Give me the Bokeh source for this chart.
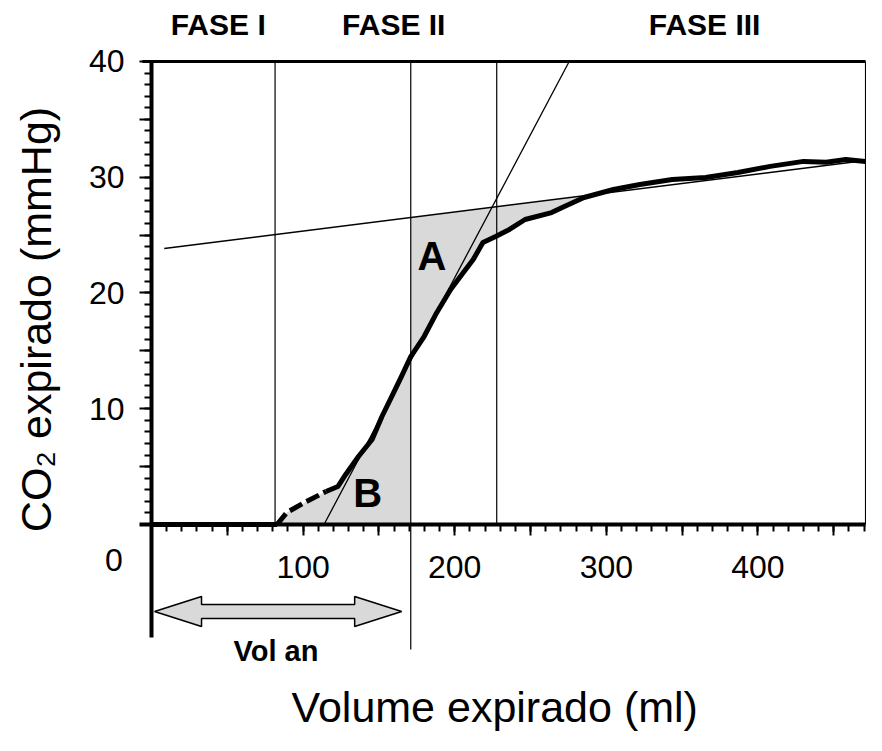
import numpy as np
from bokeh.plotting import figure
from bokeh.models import FixedTicker, Label, Range1d
from bokeh.embed import file_html
from bokeh.resources import INLINE

# ---------------- data ----------------
vol_ml = [0, 82.8, 89.3, 102.2, 115.1, 122.9, 128.1, 136.5, 145.5, 152.0,
          158.5, 164.9, 171.0, 179.8, 188.2, 197.3, 205.7, 212.2, 218.6, 227.0,
          236.1, 246.4, 263.9, 272.3, 285.3, 304.7, 322.1, 343.5, 365.5, 386.8,
          408.1, 430.1, 445.0, 458.0, 470.9]
co2_mmhg = [0, 0, 1.04, 1.99, 2.85, 3.28, 4.32, 5.87, 7.34, 9.33,
            11.06, 12.79, 14.51, 16.24, 18.32, 20.30, 21.77, 22.89, 24.36, 24.88,
            25.49, 26.35, 26.95, 27.47, 28.25, 28.94, 29.37, 29.81, 29.98, 30.41,
            30.94, 31.37, 31.29, 31.53, 31.37]

# regression lines of phase II and phase III
phase2_x = [113.8, 275.5]
phase2_y = [0, 40]
phase3_x = [8.4, 470.9]
phase3_y = [23.84, 31.45]

# phase boundaries (ml)
phase_bounds = [81.5, 171.0, 227.7]
phase_names = ["FASE I", "FASE II", "FASE III"]
phase_name_x = [44, 159.8, 364.8]

# anatomical dead space arrow (ml)
vol_an_x = [2, 165]

x_major = [0, 50, 100, 150, 200, 250, 300, 350, 400, 450]
x_minor = list(range(10, 471, 10))
x_labels = {0: "", 50: "", 100: "100", 150: "", 200: "200", 250: "",
            300: "300", 350: "", 400: "400", 450: ""}
y_major = [5, 10, 15, 20, 25, 30, 35, 40]
y_minor = list(range(1, 40))
y_labels = {5: "", 10: "10", 15: "", 20: "20", 25: "", 30: "30", 35: "", 40: "40"}

# ---------------- figure ----------------
FONT = "Liberation Sans"
X_MAX = 471
p = figure(width=866, height=735,
           x_range=Range1d(-99.6, 471.6), y_range=Range1d(-18.23, 45.27),
           output_backend="svg", toolbar_location=None,
           min_border_left=0, min_border_right=0, min_border_top=0, min_border_bottom=0)
p.xgrid.visible = False
p.ygrid.visible = False
p.outline_line_color = None
p.background_fill_color = "white"

vx = np.array(vol_ml)
vy = np.array(co2_mmhg)

# shaded areas
b_mask = (vx >= phase_bounds[0]) & (vx <= phase_bounds[1])
p.varea(x=vx[b_mask], y1=np.zeros(b_mask.sum()), y2=vy[b_mask], fill_color="#d9d9d9")
slope3 = (phase3_y[1] - phase3_y[0]) / (phase3_x[1] - phase3_x[0])
a_mask = (vx >= phase_bounds[1]) & (vx <= 305)
line3_at = phase3_y[0] + slope3 * (vx[a_mask] - phase3_x[0])
p.varea(x=vx[a_mask], y1=vy[a_mask], y2=np.maximum(line3_at, vy[a_mask]), fill_color="#d9d9d9")

# frame lines (top and right)
p.line([-6, X_MAX], [40, 40], line_color="black", line_width=3)
p.line([X_MAX, X_MAX], [0, 40], line_color="black", line_width=1.3)

# phase boundaries
p.segment(x0=phase_bounds, x1=phase_bounds, y0=[0, -10.8, 0], y1=[40, 40, 40],
          line_color="black", line_width=1.2)

# regression lines
p.line(phase2_x, phase2_y, line_color="black", line_width=1.3)
p.line(phase3_x, phase3_y, line_color="black", line_width=1.5)

# capnogram curve
p.line(vx[:2], vy[:2], line_color="black", line_width=5)
p.line(vx[1:5], vy[1:5], line_color="black", line_width=5, line_dash="14 5")
p.line(vx[4:], vy[4:], line_color="black", line_width=5, line_join="round")

# arrow for Vol an
ay, sh, hh, hl = -7.52, 0.6, 1.3, 31
x0, x1 = vol_an_x
axs = [x0, x0 + hl, x0 + hl, x1 - hl, x1 - hl, x1, x1 - hl, x1 - hl, x0 + hl, x0 + hl]
ays = [ay, ay + hh, ay + sh, ay + sh, ay + hh, ay, ay - hh, ay - sh, ay - sh, ay - hh]
p.patch(axs, ays, fill_color="#d9d9d9", line_color="black", line_width=1.5)

# axes, placed at the data origin
xa = p.xaxis[0]
xa.fixed_location = 0
xa.bounds = (-8, X_MAX)
xa.ticker = FixedTicker(ticks=x_major, minor_ticks=x_minor)
xa.major_label_overrides = x_labels
xa.axis_line_width = 4
xa.major_tick_out = 11
xa.major_tick_in = 0
xa.minor_tick_out = 7
xa.minor_tick_in = 0
xa.major_tick_line_width = 2
xa.minor_tick_line_width = 2
xa.major_label_text_font = FONT
xa.major_label_text_font_size = "32px"
xa.major_label_text_color = "black"
xa.major_label_standoff = 21

ya = p.yaxis[0]
ya.fixed_location = 0
ya.bounds = (-9.76, 40)
ya.ticker = FixedTicker(ticks=y_major, minor_ticks=y_minor)
ya.major_label_overrides = y_labels
ya.axis_line_width = 4
ya.major_tick_out = 12
ya.major_tick_in = 0
ya.minor_tick_out = 7
ya.minor_tick_in = 0
ya.major_tick_line_width = 2
ya.minor_tick_line_width = 2
ya.major_label_text_font = FONT
ya.major_label_text_font_size = "32px"
ya.major_label_text_color = "black"
ya.major_label_standoff = 15

# texts
def lab(x, y, text, size, bold=False, angle=0):
    p.add_layout(Label(x=x, y=y, text=text, text_font=FONT, text_font_size=size,
                       text_font_style="bold" if bold else "normal", text_color="black",
                       text_align="center", text_baseline="middle", angle=angle))

for nx, nm in zip(phase_name_x, phase_names):
    lab(nx, 43.2, nm, "30px", bold=True)
lab(184.9, 23.18, "A", "40px", bold=True)
lab(142.6, 2.76, "B", "40px", bold=True)
lab(82.1, -10.89, "Vol an", "29px", bold=True)
lab(-24.8, -3.11, "0", "32px")
lab(226.4, -15.75, "Volume expirado (ml)", "43px")
lab(-76.3, 17.71, "CO\u2082 expirado (mmHg)", "43px", angle=np.pi / 2)

open("out.html", "w").write(file_html(p, INLINE))
